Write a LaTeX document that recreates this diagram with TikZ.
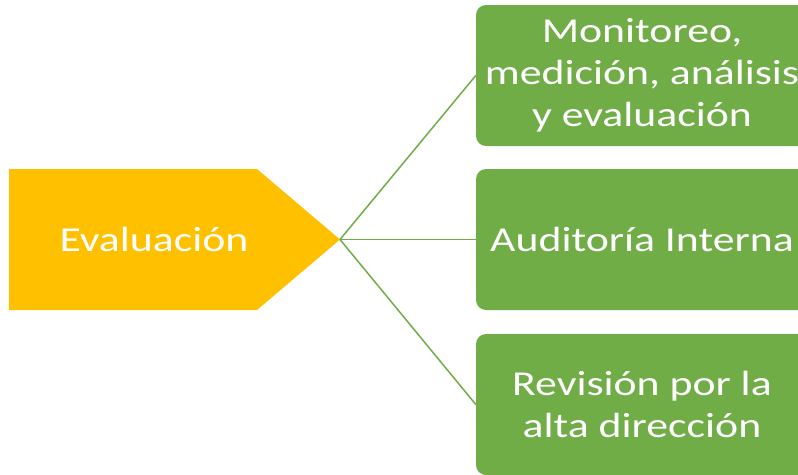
\documentclass[tikz,border=0pt]{standalone}
\usepackage{fontspec}
\setmainfont{Carlito}
\newfontfamily\ancha[FakeStretch=1.25]{Carlito}
\definecolor{amarillo}{HTML}{FFC000}
\definecolor{verde}{HTML}{70AD47}
\begin{document}
\begin{tikzpicture}[x=1pt,y=-1pt,
  caja/.style={fill=verde,rounded corners=10pt,minimum width=332pt,minimum height=141pt,
    text=white,align=center,font=\ancha\fontsize{35}{42}\selectfont},
  rama/.style={verde,line width=1.5pt}]
\useasboundingbox (0,0) rectangle (798,474);
\clip (0,0) rectangle (798,474);
%\draw[very thin,gray!40,step=20] (0,0) grid (798,474);
\fill[amarillo] (9,169) -- (257,169) -- (340,239.5) -- (257,310) -- (9,310) -- cycle;
\coordinate (punta) at (340,239.5);
\node[text=white,font=\ancha\fontsize{35}{42}\selectfont] (eval) at (154,239.5) {Evaluación};
\node[caja] (monit) at (642,75.5) {Monitoreo,\\medición, análisis\\y evaluación};
\node[caja] (audit) at (642,239.5) {Auditoría Interna};
\node[caja] (revis) at (642,404.5) {Revisión por la\\alta dirección};
\foreach\b in {monit,audit,revis}
{
\draw[rama] (punta) -- (\b.west);
}
\end{tikzpicture}
\end{document}
